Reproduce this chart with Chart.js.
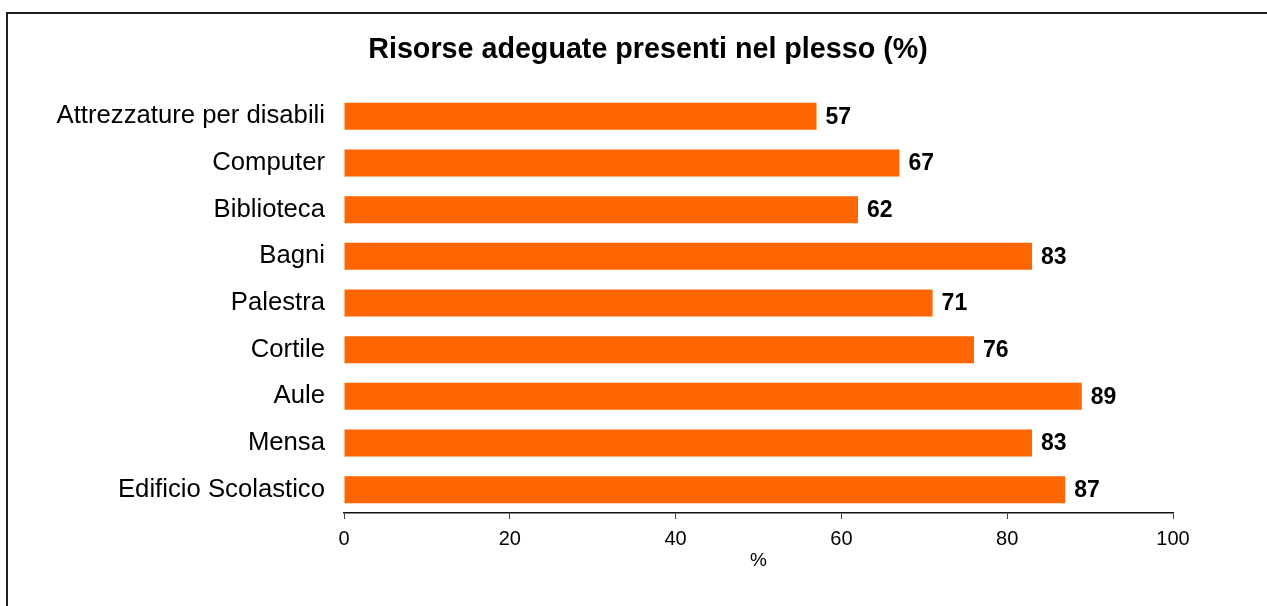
<!DOCTYPE html>
<html>
<head>
<meta charset="utf-8">
<script src="https://cdn.jsdelivr.net/npm/chart.js@4.4.1/dist/chart.umd.min.js"></script>
<style>
  html,body{margin:0;padding:0;background:#fff;overflow:hidden}
  #wrap{position:relative;width:1267px;height:606px}
  #frame{position:absolute;left:6px;top:12px;width:1400px;height:800px;border:2px solid #1e1e1e;pointer-events:none}
</style>
</head>
<body>
<div id="wrap">
  <canvas id="ch-risorse" width="1267" height="606"></canvas>
  <div id="frame"></div>
</div>
<script>
// ===================== DATI =====================
const risorse=['Attrezzature per disabili','Computer','Biblioteca','Bagni','Palestra','Cortile','Aule','Mensa','Edificio Scolastico'];
const percentuali=[57,67,62,83,71,76,89,83,87];
const tickX=[0,20,40,60,80,100];
const titolo='Risorse adeguate presenti nel plesso (%)';

const FONT='"Liberation Sans", Arial, Helvetica, sans-serif';

// titolo disegnato a mano: è spostato un po' a destra rispetto al centro del canvas
const titoloPlugin={
  id:'titolo',
  afterDraw(chart){
    const ctx=chart.ctx;
    ctx.save();
    ctx.font='bold 28.7px '+FONT;
    ctx.fillStyle='#000';
    ctx.textAlign='center';
    ctx.textBaseline='middle';
    ctx.fillText(titolo,648,50);
    ctx.restore();
  }
};

// etichette numeriche in grassetto a destra di ogni barra
const valoriPlugin={
  id:'valori',
  afterDatasetsDraw(chart){
    const ctx=chart.ctx;
    const meta=chart.getDatasetMeta(0);
    ctx.save();
    ctx.font='bold 23px '+FONT;
    ctx.fillStyle='#000';
    ctx.textAlign='left';
    ctx.textBaseline='middle';
    meta.data.forEach((bar,i)=>{
      ctx.fillText(String(percentuali[i]),bar.x+9,bar.y+1);
    });
    ctx.restore();
  }
};

const el=document.getElementById('ch-risorse');
new Chart(el,{
  type:'bar',
  data:{labels:risorse,datasets:[{
    data:percentuali,
    backgroundColor:'#FF6600',
    borderWidth:0,
    categoryPercentage:1,
    barPercentage:0.58
  }]},
  options:{
    indexAxis:'y',
    responsive:false,
    animation:false,
    layout:{padding:{left:0,right:94,top:93,bottom:0}},
    plugins:{
      legend:{display:false},
      tooltip:{enabled:false},
      title:{display:false}
    },
    scales:{
      x:{
        min:0,max:100,
        afterBuildTicks:s=>{s.ticks=tickX.map(v=>({value:v}));},
        afterFit:s=>{s.height=93;},
        grid:{display:true,drawOnChartArea:false,drawTicks:true,tickLength:6,color:'#444',lineWidth:1},
        border:{display:true,color:'#111',width:1.5},
        ticks:{color:'#000',font:{family:FONT,size:20},padding:8,maxRotation:0},
        title:{display:true,text:'%',color:'#000',font:{family:FONT,size:19},padding:{top:0,bottom:34}}
      },
      y:{
        afterFit:s=>{s.width=344;},
        grid:{display:false,drawTicks:false},
        border:{display:false},
        ticks:{color:'#000',font:{family:FONT,size:25.7},padding:19,autoSkip:false}
      }
    }
  },
  plugins:[valoriPlugin,titoloPlugin]
});
</script>
</body>
</html>
